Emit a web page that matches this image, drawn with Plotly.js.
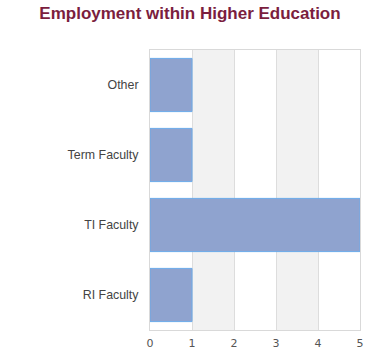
<!DOCTYPE html>
<html><head><meta charset="utf-8">
<script src="https://cdn.plot.ly/plotly-3.0.1.min.js"></script>
<style>body{margin:0;padding:0;background:#fff}#chart{width:380px;height:360px}</style>
</head><body><div id="chart"></div>
<script>
const categories = ["RI Faculty", "TI Faculty", "Term Faculty", "Other"];
const counts = [1, 5, 1, 1];
const xTicks = [0, 1, 2, 3, 4, 5];
const bands = [[1, 2], [3, 4]];

const trace = {
  type: 'bar', orientation: 'h',
  y: categories, x: counts,
  marker: {color: '#8fa3cf', line: {color: '#6aaaea', width: 1}},
  width: 0.76, hoverinfo: 'x+y'
};
const shapes = bands.map(b => ({
  type: 'rect', xref: 'x', yref: 'paper', x0: b[0], x1: b[1], y0: 0, y1: 1,
  fillcolor: '#f2f2f2', line: {width: 0}, layer: 'below'
}));
const layout = {
  width: 380, height: 360,
  margin: {l: 150, r: 20, t: 50, b: 30},
  paper_bgcolor: '#fff', plot_bgcolor: '#fff',
  title: {text: '<b>Employment within Higher Education</b>', x: 0.5, xanchor: 'center', y: 0.965, yanchor: 'middle',
    font: {family: 'Liberation Sans, Arial, sans-serif', size: 17, color: '#7b1e3e'}},
  xaxis: {range: [0, 5], tickvals: xTicks, ticktext: xTicks.map(String), showgrid: true, gridcolor: '#dddddd',
    zeroline: false, showline: true, linecolor: '#d9d9d9', mirror: true, ticks: '', ticklabelstandoff: 3,
    tickfont: {family: 'DejaVu Sans, sans-serif', size: 11, color: '#555'}, fixedrange: true},
  yaxis: {showgrid: false, zeroline: false, showline: true, linecolor: '#d9d9d9', mirror: true, ticks: '',
    ticklabelstandoff: 8,
    tickfont: {family: 'Liberation Sans, Arial, sans-serif', size: 12.4, color: '#444'}, fixedrange: true},
  shapes: shapes, showlegend: false
};
Plotly.newPlot('chart', [trace], layout, {displayModeBar: false, staticPlot: true});
</script></body></html>
